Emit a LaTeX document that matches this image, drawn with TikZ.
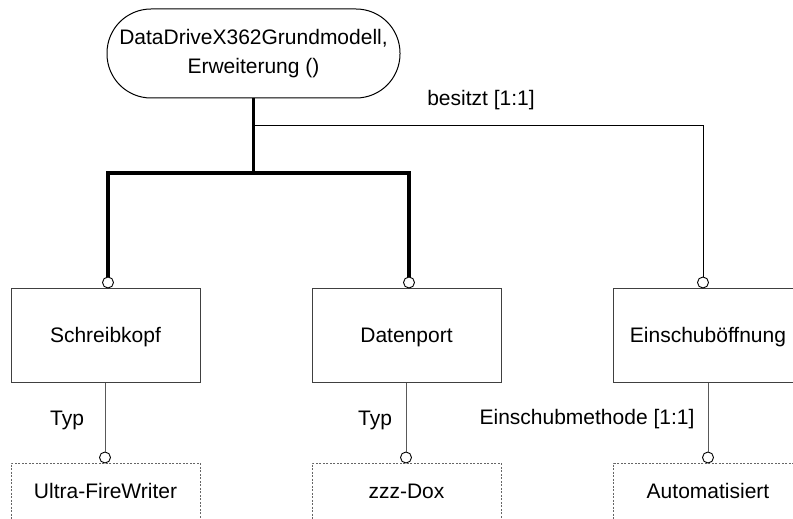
\documentclass[tikz,border=0pt]{standalone}
\usepackage{fontspec}
\setmainfont{Liberation Sans}
\begin{document}
\begin{tikzpicture}[x=1pt,y=-1pt,
  every node/.style={font=\fontsize{21}{28.5}\selectfont},
  box/.style={draw=black!75, line width=1pt, minimum width=189pt, minimum height=94pt, inner sep=0pt, text height=15pt, text depth=0pt},
  vbox/.style={draw=black!60, dash pattern=on 2pt off 1.5pt, line width=1pt, minimum width=189pt, minimum height=58pt, inner sep=0pt, text height=15pt, text depth=3pt},
  circ/.style={circle, draw, fill=white, line width=0.9pt, minimum size=11pt, inner sep=0pt},
  heavy line/.style={line width=3.5pt},
  light line/.style={line width=1pt},
  sub line/.style={line width=1pt, draw=black!65},
  lbl/.style={anchor=base, inner sep=0pt}]
\useasboundingbox (0,0) rectangle (793,519);

\node[draw, rounded corners=44pt, minimum width=293pt, minimum height=89pt, line width=1pt, align=center, inner sep=0pt] (root) at (253.5,53.5) {DataDriveX362Grundmodell,\\Erweiterung ()};

\node[box] (b1) at (105.5,335) {Schreibkopf};
\node[box] (b2) at (406.5,335) {Datenport};
\node[box] (b3) at (708,335) {Einschuböffnung};

\node[circ] (c1) at (108,282.5) {};
\node[circ] (c2) at (409,282.5) {};
\node[circ] (c3) at (703,282.5) {};

\node[circ] (d1) at (105,457.5) {};
\node[circ] (d2) at (406,457.5) {};
\node[circ] (d3) at (708,457.5) {};

\node[vbox] (v1) at (105.5,492) {Ultra-FireWriter};
\node[vbox] (v2) at (406.5,492) {zzz-Dox};
\node[vbox] (v3) at (708,492) {Automatisiert};

\coordinate (jt) at (253.5,173);
\coordinate (jb) at (253.5,125);

\draw[heavy line] (root.south) -- (jt);
\draw[heavy line] (c1.north) -- (c1 |- jt) -- (c2 |- jt) -- (c2.north);
\draw[light line] (jb) -| (c3.north);

\draw[sub line] (d1 |- b1.south) -- (d1.north);
\draw[sub line] (d2 |- b2.south) -- (d2.north);
\draw[sub line] (d3 |- b3.south) -- (d3.north);

\node[lbl] (t1) at (67,425) {Typ};
\node[lbl] (t2) at (375,425) {Typ};
\node[lbl] (t3) at (587,424) {Einschubmethode [1:1]};
\node[lbl] (t4) at (481,106) {besitzt [1:1]};
\end{tikzpicture}
\end{document}
